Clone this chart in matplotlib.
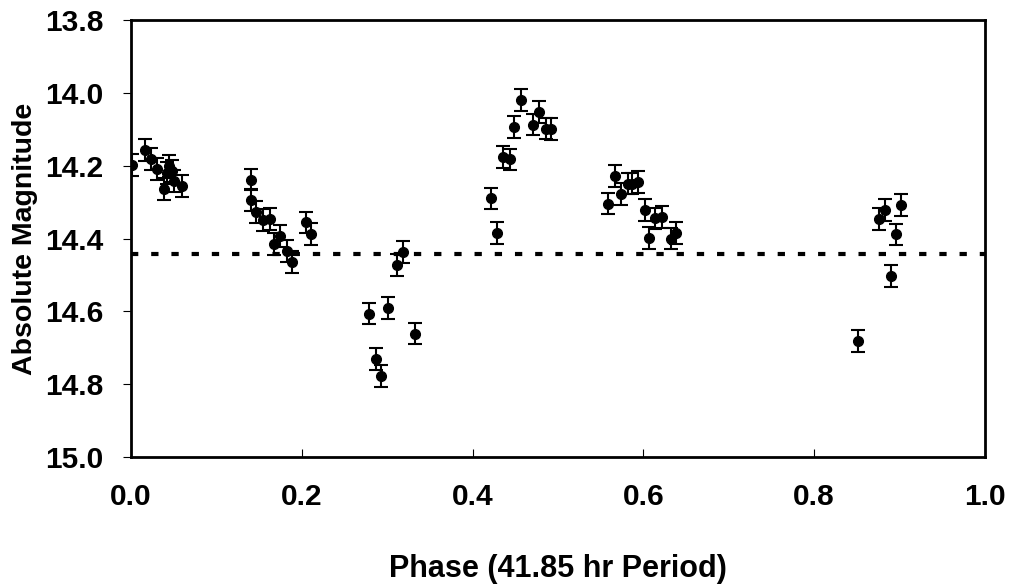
import matplotlib
matplotlib.use("Agg")
import matplotlib.pyplot as plt

# phase-folded photometry, 41.85 hr period
phase = [0.001, 0.016, 0.024, 0.031, 0.039, 0.045, 0.042, 0.048, 0.050, 0.060,
         0.141, 0.141, 0.146, 0.155, 0.163, 0.174, 0.168, 0.183, 0.188, 0.205, 0.211,
         0.279, 0.287, 0.293, 0.301, 0.311, 0.319, 0.333,
         0.422, 0.429, 0.436, 0.444, 0.448, 0.457, 0.471, 0.478, 0.486, 0.492,
         0.559, 0.567, 0.574, 0.582, 0.587, 0.594, 0.602, 0.607, 0.614, 0.622, 0.632, 0.638,
         0.851, 0.876, 0.883, 0.890, 0.896, 0.902]
mag = [14.198, 14.157, 14.182, 14.209, 14.265, 14.200, 14.221, 14.214, 14.241, 14.256,
       14.238, 14.295, 14.327, 14.349, 14.347, 14.393, 14.416, 14.435, 14.464, 14.356, 14.388,
       14.606, 14.732, 14.778, 14.592, 14.473, 14.437, 14.661,
       14.290, 14.384, 14.177, 14.183, 14.093, 14.020, 14.087, 14.052, 14.098, 14.100,
       14.304, 14.229, 14.278, 14.249, 14.249, 14.246, 14.322, 14.399, 14.345, 14.340, 14.400, 14.386,
       14.681, 14.347, 14.322, 14.502, 14.389, 14.308]
mag_err = [0.03, 0.03, 0.03, 0.03, 0.03, 0.03, 0.03, 0.03, 0.03, 0.03,
           0.03, 0.03, 0.03, 0.03, 0.03, 0.03, 0.03, 0.03, 0.03, 0.03, 0.03,
           0.03, 0.03, 0.03, 0.03, 0.03, 0.03, 0.03,
           0.03, 0.03, 0.03, 0.03, 0.03, 0.03, 0.03, 0.03, 0.03, 0.03,
           0.03, 0.03, 0.03, 0.03, 0.03, 0.03, 0.03, 0.03, 0.03, 0.03, 0.03, 0.03,
           0.03, 0.03, 0.03, 0.03, 0.03, 0.03]
mean_mag = 14.443

x_ticks = [0.0, 0.2, 0.4, 0.6, 0.8, 1.0]
y_ticks = [13.8, 14.0, 14.2, 14.4, 14.6, 14.8, 15.0]

plt.rcParams["font.family"] = ["Liberation Sans", "DejaVu Sans"]
plt.rcParams["font.weight"] = "bold"

fig = plt.figure(figsize=(10.09, 5.85), dpi=100)
ax = fig.add_axes([0.1298, 0.2188, 0.8464, 0.747])

# mean magnitude
ax.axhline(mean_mag, color="black", lw=3, dashes=(1.75, 3.1), zorder=1)
ax.errorbar(phase, mag, yerr=mag_err, fmt="o", color="black", ms=7,
            elinewidth=1.5, capsize=5, capthick=1.5, zorder=3)

ax.set_xlim(0, 1)
ax.set_ylim(15.0, 13.8)
ax.set_xticks(x_ticks)
ax.set_xticklabels(["%.1f" % t for t in x_ticks])
ax.set_yticks(y_ticks)
ax.set_yticklabels(["%.1f" % t for t in y_ticks])

for s in ax.spines.values():
    s.set_linewidth(2)
ax.tick_params(axis="x", direction="in", length=6, width=0.8, pad=19, labelsize=21.5)
ax.tick_params(axis="y", direction="out", length=6, width=0.8, pad=14, labelsize=21.5)

ax.set_xlabel("Phase (41.85 hr Period)", fontsize=22, fontweight="bold", labelpad=31)
ax.set_ylabel("Absolute Magnitude", fontsize=20.5, fontweight="bold", labelpad=5)

fig.savefig("out.png", dpi=100)
